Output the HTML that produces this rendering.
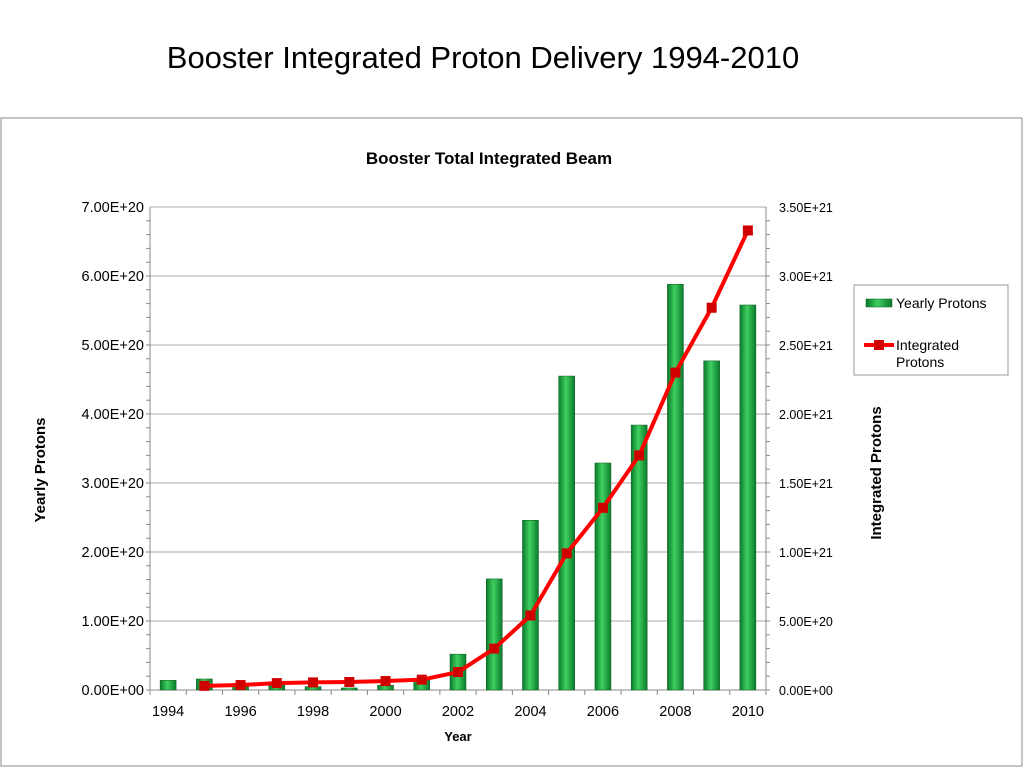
<!DOCTYPE html>
<html><head><meta charset="utf-8"><style>
body{margin:0;width:1024px;height:768px;background:#fff;font-family:"Liberation Sans",sans-serif;overflow:hidden}
</style></head><body>
<div style="position:absolute;top:40px;left:0;width:966px;text-align:center;font-family:'Liberation Sans',sans-serif;font-size:31px;color:#000">Booster Integrated Proton Delivery 1994-2010</div>
<svg width="1024" height="768" style="position:absolute;left:0;top:0">
<rect x="1" y="118" width="1021" height="648" fill="none" stroke="#888" stroke-width="1"/>
<g id="g"></g>
</svg>
<script>
const years=[1994,1995,1996,1997,1998,1999,2000,2001,2002,2003,2004,2005,2006,2007,2008,2009,2010];
const yearly=[0.14,0.16,0.08,0.12,0.05,0.03,0.07,0.16,0.52,1.61,2.46,4.55,3.29,3.84,5.88,4.77,5.58];
const integrated=[null,0.03,0.036,0.05,0.055,0.058,0.065,0.075,0.13,0.30,0.54,0.99,1.32,1.70,2.30,2.77,3.33];
const leftTicks=["0.00E+00","1.00E+20","2.00E+20","3.00E+20","4.00E+20","5.00E+20","6.00E+20","7.00E+20"];
const rightTicks=["0.00E+00","5.00E+20","1.00E+21","1.50E+21","2.00E+21","2.50E+21","3.00E+21","3.50E+21"];
const X0=150,X1=766,Y0=690,Y1=207,n=years.length,cw=(X1-X0)/n;
const xc=i=>X0+cw*(i+0.5);
const yL=v=>Y0-(v/7)*(Y0-Y1);
const yR=v=>Y0-(v/3.5)*(Y0-Y1);
const ns="http://www.w3.org/2000/svg",g=document.getElementById('g');
function mk(t,a,txt){const e=document.createElementNS(ns,t);for(const k in a)e.setAttribute(k,a[k]);if(txt!=null)e.textContent=txt;g.appendChild(e);return e;}
const defs=mk('defs',{});
defs.innerHTML='<linearGradient id="bg" x1="0" x2="1"><stop offset="0" stop-color="#0a7a2a"/><stop offset="0.45" stop-color="#3fd060"/><stop offset="1" stop-color="#0a7a2a"/></linearGradient>';
for(let k=0;k<8;k++){
 const y=yL(k);
 let e=mk('line',{x1:X0,x2:X1,y1:y,y2:y,stroke:k==0?'#888':'#aaa','stroke-width':1});
 
 e=mk('text',{x:X0-6,y:y+5,'text-anchor':'end','font-size':14.5},leftTicks[k]);
 
 e=mk('text',{x:X1+13,y:y+5,'font-size':12.5},rightTicks[k]);
 
 for(let m=0;m<5&&k<7;m++){const yy=yL(k+m/5);mk('line',{x1:X0-4,x2:X0,y1:yy,y2:yy,stroke:'#888'});mk('line',{x1:X1,x2:X1+4,y1:yy,y2:yy,stroke:'#888'});}
}
mk('line',{x1:X0,x2:X0,y1:Y1,y2:Y0,stroke:'#888'});
mk('line',{x1:X1,x2:X1,y1:Y1,y2:Y0,stroke:'#888'});
for(let i=0;i<=n;i++){const x=X0+cw*i;mk('line',{x1:x,x2:x,y1:Y0,y2:Y0+5,stroke:'#888'});}
years.forEach((yr,i)=>{
 const h=Y0-yL(yearly[i]);
 let b=mk('rect',{x:xc(i)-8,y:yL(yearly[i]),width:16,height:h,fill:'url(#bg)',stroke:'#0a5a20','stroke-width':0.5});
 
 if(i%2==0){const t=mk('text',{x:xc(i),y:716,'text-anchor':'middle','font-size':14.5},String(yr));
 }
});
let pts=[];integrated.forEach((v,i)=>{if(v!=null)pts.push(xc(i)+','+yR(v));});
let l=mk('polyline',{points:pts.join(' '),fill:'none',stroke:'#f00','stroke-width':4,'stroke-linejoin':'round'});

integrated.forEach((v,i)=>{if(v==null)return;const p=mk('rect',{x:xc(i)-5,y:yR(v)-5,width:10,height:10,fill:'#d00000'});
 });
let t=mk('text',{x:489,y:164,'text-anchor':'middle','font-size':17,'font-weight':'bold'},'Booster Total Integrated Beam');

t=mk('text',{x:458,y:741,'text-anchor':'middle','font-size':13,'font-weight':'bold'},'Year');

t=mk('text',{x:0,y:0,'text-anchor':'middle','font-size':15,'font-weight':'bold',transform:'translate(45,470) rotate(-90)'},'Yearly Protons');

t=mk('text',{x:0,y:0,'text-anchor':'middle','font-size':15,'font-weight':'bold',transform:'translate(881,473) rotate(-90)'},'Integrated Protons');

let lg=mk('rect',{x:854,y:285,width:154,height:90,fill:'#fff',stroke:'#999'});

mk('rect',{x:866,y:299,width:26,height:8,fill:'url(#bg)',stroke:'#0a5a20','stroke-width':0.5});
t=mk('text',{x:896,y:308,'font-size':14},'Yearly Protons');
mk('line',{x1:864,x2:894,y1:345,y2:345,stroke:'#f00','stroke-width':4});
mk('rect',{x:874,y:340,width:10,height:10,fill:'#d00000'});
t=mk('text',{x:896,y:350,'font-size':14},'Integrated');
mk('text',{x:896,y:367,'font-size':14},'Protons');
</script>
</body></html>
